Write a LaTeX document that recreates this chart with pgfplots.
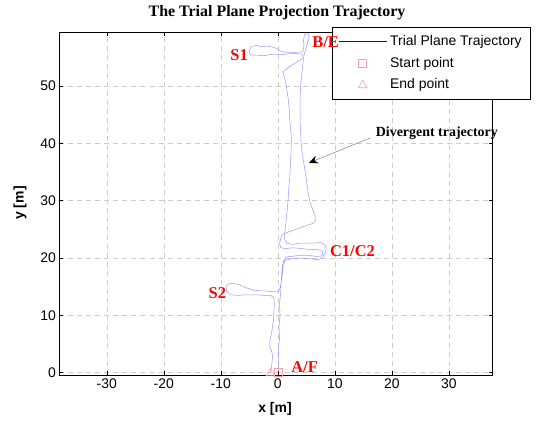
\documentclass[border=0pt]{standalone}
\usepackage{fontspec}
\setmainfont{Liberation Serif}
\setsansfont{Liberation Sans}
\usepackage{pgfplots}
\pgfplotsset{compat=1.18}
\usetikzlibrary{arrows.meta}
\definecolor{traj}{RGB}{150,150,255}
\definecolor{mk}{RGB}{255,160,160}
\begin{document}
\begin{tikzpicture}
\begin{axis}[
  scale only axis, width=433.2bp, height=342.7bp,
  xmin=-38.3, xmax=37.7, ymin=-0.4, ymax=59.4,
  xtick={-30,-20,...,30}, ytick={0,10,...,50},
  tick align=inside, tick pos=both, major tick length=4bp,
  grid=major,
  major grid style={gray!40, dash pattern=on 5bp off 4bp, line width=0.6bp},
  axis line style={line width=0.8bp},
  every tick/.style={black, line width=0.6bp},
  tick label style={font=\sffamily\fontsize{14}{16}\selectfont},
  /pgf/number format/assume math mode=true,
  xlabel={\sffamily\bfseries x [m]},
  ylabel={\sffamily\bfseries y [m]},
  label style={font=\sffamily\bfseries\fontsize{14}{16}\selectfont},
  xlabel style={at={(axis description cs:0.4975,-0.0992)}, anchor=center},
  ylabel style={at={(axis description cs:-0.0912,0.502)}, anchor=center, rotate=0},
  clip mode=individual,
  legend style={at={(rel axis cs:0.629,1.0155)}, anchor=north west, draw=black, line width=0.8bp, fill=white,
    font=\sffamily\fontsize{14}{16}\selectfont, inner xsep=6bp, inner ysep=4.5bp, row sep=2.3bp,
    nodes={inner sep=3bp, text height=10.5bp, text depth=3bp}},
  legend cell align=left,
  legend image code/.code={\draw[mark repeat=2,mark phase=2,#1] plot coordinates {(0bp,0bp) (24bp,0bp) (48bp,0bp)};},
]
\addplot[traj, line width=0.5bp, legend image code/.code={\draw[draw=blue, line width=0.8bp] (0bp,0bp) -- (48bp,0bp);}] coordinates {
(0,0) (0.1,0.5) (0.2,2) (0.1,4) (0.3,6) (0.2,8) (0.4,10) (0.3,12) (0.5,14) (0.6,16) (0.7,17.5) (0.8,18.8)
(1.3,19.6) (2.5,19.9) (4,20.0) (5.5,19.9) (7,19.7) (7.8,20.0) (8.3,20.8) (8.5,21.7) (8.2,22.4) (7.5,22.7)
(6,22.6) (4,22.6) (2.5,22.4) (1.6,22.6) (1.2,23.3) (1.2,24.3) (1.4,26) (1.6,28) (1.8,30) (1.9,32) (2.1,34)
(2.2,36) (2.3,38) (2.4,40.5) (2.3,42) (2.1,44) (2.0,46) (1.8,48) (1.5,50) (1.2,51.5) (0.9,52.5) (1.8,53.2)
(3.0,54) (4.2,54.7) (4.3,55.6)
(3.0,55.7) (1.5,55.6) (0.5,55.5) (-0.5,55.6) (-1.5,55.5) (-2.5,55.3) (-3.5,55.4) (-4.5,55.4) (-4.9,55.6)
(-5.0,56.2) (-4.7,56.9) (-3.8,57.1) (-2.8,56.9) (-1.8,57.0) (-0.8,56.8) (0.0,56.5) (0.5,56.1) (1.5,55.9)
(3.2,55.9) (4.4,56.0) (4.6,57) (4.5,58) (4.7,59) (4.9,59.3) (5.3,59.2) (5.5,58.5)
(5.2,57.5) (4.9,56.5) (4.6,55.5) (4.4,54.0) (4.2,52) (4.0,50) (3.9,48) (3.9,46) (3.9,44) (4.0,42) (4.1,40)
(4.3,38) (4.5,37) (4.7,35.7) (4.9,34.5) (5.1,33) (5.3,31.5) (5.6,30) (5.9,29) (6.2,28.3) (6.5,27.5)
(6.6,26.6) (6.3,26.1) (4.5,25.5) (2.5,24.8) (1.2,24.3) (0.7,24.0) (0.5,23.3) (0.3,22.6) (0.5,21.9)
(1.2,21.6) (2.5,21.8) (4,21.7) (5.5,21.5) (7,21.5) (7.8,21.2) (7.9,20.6) (7.3,20.2) (6,20.4) (4,20.5)
(2.5,20.3) (1.4,20.2) (1.0,19.5) (0.9,18) (0.7,16.5) (0.5,15.2) (0.2,14.3) (-0.3,14.1)
(-1.5,14.2) (-3,14.3) (-4.3,14.4) (-5.5,14.8) (-6.7,15.3) (-7.8,15.6) (-8.7,15.5) (-9.1,15.0) (-9.0,14.2)
(-8.3,13.6) (-7.0,13.5) (-5.5,13.6) (-4.0,13.6) (-2.5,13.5) (-1.3,13.5) (-0.7,13.1) (-0.6,12) (-0.7,10.5)
(-0.8,9) (-1.0,7.5) (-1.2,6.5) (-1.4,5.5) (-1.4,4.5) (-1.1,3.8) (-0.9,3) (-1.0,2) (-1.1,1) (-1.3,-0.1)
};
\addlegendentry{Trial Plane Trajectory}
\addplot[only marks, mark=square, mark size=4bp, mk, mark options={line width=0.6bp}] coordinates {(0,0.1)};
\addlegendentry{Start point}
\addplot[only marks, mark=triangle, mark size=5bp, mk, mark options={line width=0.6bp}] coordinates {(-1.3,-0.1)};
\addlegendentry{End point}
\node[red, font=\rmfamily\bfseries\fontsize{16.5}{18}\selectfont] at (axis cs:-6.8,55.4) {S1};
\node[red, font=\rmfamily\bfseries\fontsize{16.5}{18}\selectfont] at (axis cs:13.1,21.2) {C1/C2};
\node[red, font=\rmfamily\bfseries\fontsize{16.5}{18}\selectfont] at (axis cs:-10.6,13.8) {S2};
\node[red, font=\rmfamily\bfseries\fontsize{16.5}{18}\selectfont] at (axis cs:4.7,0.9) {A/F};
\node[black, font=\rmfamily\bfseries\fontsize{14}{16}\selectfont] at (axis cs:27.9,41.8) {Divergent trajectory};
\draw[gray, line width=0.5bp, -{Stealth[length=9bp,width=8bp,black]}] (axis cs:16.3,41.0) -- (axis cs:5.45,36.6);
\coordinate (be) at (axis cs:8.4,57.6);
\end{axis}
\node[red, font=\rmfamily\bfseries\fontsize{16.5}{18}\selectfont] at (be) {B/E};
\node[black, font=\rmfamily\bfseries\fontsize{16}{18}\selectfont] at (217.5bp,362bp) {The Trial Plane Projection Trajectory};
\pgfresetboundingbox
\path[use as bounding box] (-59.5bp,-47bp) rectangle (490.5bp,375bp);
\end{tikzpicture}
\end{document}
